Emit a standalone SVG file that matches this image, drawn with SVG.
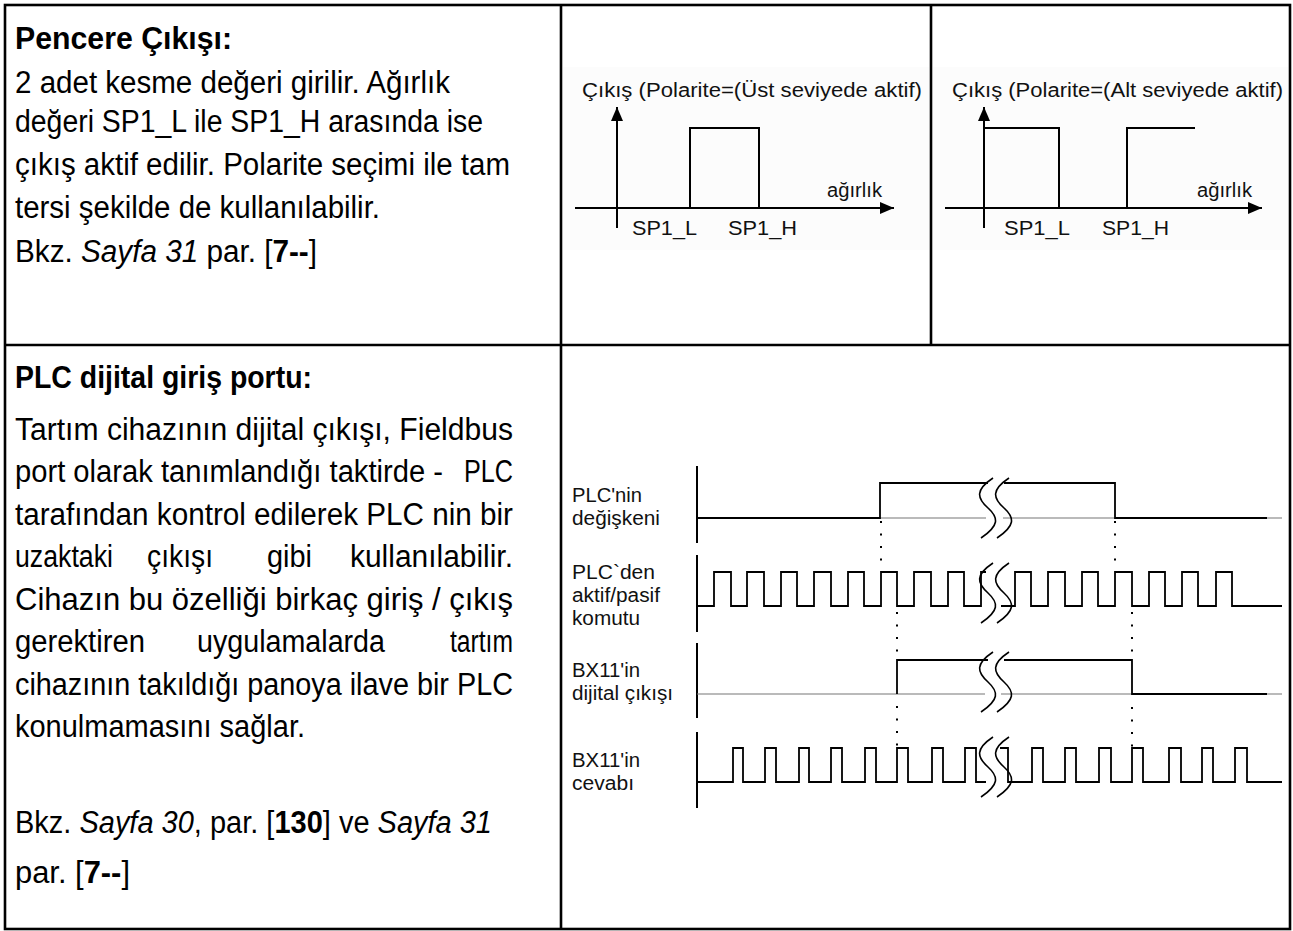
<svg xmlns="http://www.w3.org/2000/svg" width="1293" height="931" viewBox="0 0 1293 931">
<style>
.t{font-family:"Liberation Sans",Arial,sans-serif;font-size:31px;fill:#000}
.b{font-weight:bold}
.i{font-style:italic}
.c{font-family:"Liberation Sans",Arial,sans-serif;font-size:20px;fill:#111}
.ln{stroke:#000;stroke-width:2;fill:none}
.sg{stroke:#000;stroke-width:1.8;fill:none;stroke-linejoin:miter}
.gr{stroke:#777;stroke-width:1.2;fill:none}
.brk{stroke:#000;stroke-width:1.6;fill:none}
.dot{stroke:#000;stroke-width:2;stroke-dasharray:2 10.5;fill:none}
.tb{stroke:#000;stroke-width:2.6;fill:none}
</style>
<defs>
<marker id="ah" markerUnits="userSpaceOnUse" markerWidth="15" markerHeight="12" refX="14" refY="6" orient="auto">
<path d="M0,0 L14,6 L0,12 z" fill="#000"/>
</marker>
<path id="brk" d="M5,0 C-13,12 -11,20 0,30 C11,40 11,48 -7,60"/>
</defs>
<rect width="1293" height="931" fill="#fff"/>

<g id="table">
<rect class="tb" x="5" y="5" width="1285" height="924"/>
<line class="tb" x1="561" y1="5" x2="561" y2="929"/>
<line class="tb" x1="931" y1="5" x2="931" y2="345"/>
<line class="tb" x1="5" y1="345" x2="1290" y2="345"/>
</g>

<g id="pencere-text">
<text class="t b" x="15" y="49" textLength="217" lengthAdjust="spacingAndGlyphs">Pencere Çıkışı:</text>
<text class="t" x="15" y="93" textLength="435" lengthAdjust="spacingAndGlyphs">2 adet kesme değeri girilir. Ağırlık</text>
<text class="t" x="15" y="132" textLength="468" lengthAdjust="spacingAndGlyphs">değeri SP1_L ile SP1_H arasında ise</text>
<text class="t" x="15" y="175" textLength="495" lengthAdjust="spacingAndGlyphs">çıkış aktif edilir. Polarite seçimi ile tam</text>
<text class="t" x="15" y="218" textLength="365" lengthAdjust="spacingAndGlyphs">tersi şekilde de kullanılabilir.</text>
<text class="t" x="15" y="262" textLength="302" lengthAdjust="spacingAndGlyphs">Bkz. <tspan class="i">Sayfa 31</tspan> par. [<tspan class="b">7--</tspan>]</text>
</g>

<g id="chart-ust">
<rect x="563" y="67" width="366" height="183" fill="#fcfcfc"/>
<text class="c" x="582" y="97" textLength="340" lengthAdjust="spacingAndGlyphs">Çıkış (Polarite=(Üst seviyede aktif)</text>
<line class="ln" x1="617" y1="228" x2="617" y2="107" marker-end="url(#ah)"/>
<line class="ln" x1="575" y1="208" x2="894" y2="208" marker-end="url(#ah)"/>
<polyline class="ln" points="690,208 690,128 759,128 759,208"/>
<text class="c" x="827" y="197" textLength="55" lengthAdjust="spacingAndGlyphs">ağırlık</text>
<text class="c" x="632" y="235" textLength="65" lengthAdjust="spacingAndGlyphs">SP1_L</text>
<text class="c" x="728" y="235" textLength="69" lengthAdjust="spacingAndGlyphs">SP1_H</text>
</g>

<g id="chart-alt">
<rect x="933" y="67" width="355" height="183" fill="#fcfcfc"/>
<text class="c" x="952" y="97" textLength="331" lengthAdjust="spacingAndGlyphs">Çıkış (Polarite=(Alt seviyede aktif)</text>
<line class="ln" x1="984" y1="228" x2="984" y2="107" marker-end="url(#ah)"/>
<line class="ln" x1="945" y1="208" x2="1262" y2="208" marker-end="url(#ah)"/>
<polyline class="ln" points="984,128 1059,128 1059,208"/>
<polyline class="ln" points="1127,208 1127,128 1195,128"/>
<text class="c" x="1197" y="197" textLength="55" lengthAdjust="spacingAndGlyphs">ağırlık</text>
<text class="c" x="1004" y="235" textLength="66" lengthAdjust="spacingAndGlyphs">SP1_L</text>
<text class="c" x="1102" y="235" textLength="67" lengthAdjust="spacingAndGlyphs">SP1_H</text>
</g>

<g id="plc-text">
<text class="t b" x="15" y="388" textLength="297" lengthAdjust="spacingAndGlyphs">PLC dijital giriş portu:</text>
<text class="t" x="15" y="440" textLength="498" lengthAdjust="spacingAndGlyphs">Tartım cihazının dijital çıkışı, Fieldbus</text>
<text class="t" x="15" y="482" textLength="428" lengthAdjust="spacingAndGlyphs">port olarak tanımlandığı taktirde -</text>
<text class="t" x="464" y="482" textLength="49" lengthAdjust="spacingAndGlyphs">PLC</text>
<text class="t" x="15" y="525" textLength="498" lengthAdjust="spacingAndGlyphs">tarafından kontrol edilerek PLC nin bir</text>
<text class="t" x="15" y="567" textLength="98" lengthAdjust="spacingAndGlyphs">uzaktaki</text>
<text class="t" x="147" y="567" textLength="66" lengthAdjust="spacingAndGlyphs">çıkışı</text>
<text class="t" x="267" y="567" textLength="45" lengthAdjust="spacingAndGlyphs">gibi</text>
<text class="t" x="350" y="567" textLength="163" lengthAdjust="spacingAndGlyphs">kullanılabilir.</text>
<text class="t" x="15" y="610" textLength="498" lengthAdjust="spacingAndGlyphs">Cihazın bu özelliği birkaç giriş / çıkış</text>
<text class="t" x="15" y="652" textLength="130" lengthAdjust="spacingAndGlyphs">gerektiren</text>
<text class="t" x="197" y="652" textLength="188" lengthAdjust="spacingAndGlyphs">uygulamalarda</text>
<text class="t" x="450" y="652" textLength="63" lengthAdjust="spacingAndGlyphs">tartım</text>
<text class="t" x="15" y="695" textLength="498" lengthAdjust="spacingAndGlyphs">cihazının takıldığı panoya ilave bir PLC</text>
<text class="t" x="15" y="737" textLength="290" lengthAdjust="spacingAndGlyphs">konulmamasını sağlar.</text>
<text class="t" x="15" y="833" textLength="477" lengthAdjust="spacingAndGlyphs">Bkz. <tspan class="i">Sayfa 30</tspan>, par. [<tspan class="b">130</tspan>] ve <tspan class="i">Sayfa 31</tspan></text>
<text class="t" x="15" y="883" textLength="115" lengthAdjust="spacingAndGlyphs">par. [<tspan class="b">7--</tspan>]</text>
</g>

<g id="timing-labels">
<text class="c" x="572" y="502" textLength="70" lengthAdjust="spacingAndGlyphs">PLC'nin</text>
<text class="c" x="572" y="525" textLength="88" lengthAdjust="spacingAndGlyphs">değişkeni</text>
<text class="c" x="572" y="579" textLength="83" lengthAdjust="spacingAndGlyphs">PLC`den</text>
<text class="c" x="572" y="602" textLength="88" lengthAdjust="spacingAndGlyphs">aktif/pasif</text>
<text class="c" x="572" y="625" textLength="68" lengthAdjust="spacingAndGlyphs">komutu</text>
<text class="c" x="572" y="677" textLength="68" lengthAdjust="spacingAndGlyphs">BX11'in</text>
<text class="c" x="572" y="700" textLength="101" lengthAdjust="spacingAndGlyphs">dijital çıkışı</text>
<text class="c" x="572" y="767" textLength="68" lengthAdjust="spacingAndGlyphs">BX11'in</text>
<text class="c" x="572" y="790" textLength="62" lengthAdjust="spacingAndGlyphs">cevabı</text>
</g>

<g id="row-plc-degisken">
<line class="ln" x1="697" y1="466" x2="697" y2="543"/>
<path class="gr" d="M697,518 H986 M1003,518 H1282"/>
<path class="sg" d="M697,518 H880 V483 H988 M1004,483 H1115 V518 H1267"/>
<use href="#brk" x="988" y="478" class="brk"/>
<use href="#brk" x="1004" y="478" class="brk"/>
</g>

<g id="row-plc-komut">
<line class="ln" x1="697" y1="555" x2="697" y2="632"/>
<path class="sg" d="M697,606 H714 V572 H731 V606 H747 V572 H764 V606 H781 V572 H797 V606 H814 V572 H831 V606 H848 V572 H864 V606 H881 V572 H897 V606 H914 V572 H931 V606 H948 V572 H964 V606 H981 V572 H986"/>
<path class="sg" d="M1001,606 H1015 V572 H1031 V606 H1048 V572 H1065 V606 H1082 V572 H1098 V606 H1115 V572 H1132 V606 H1149 V572 H1165 V606 H1182 V572 H1198 V606 H1216 V572 H1232 V606 H1282"/>
<use href="#brk" x="988" y="563" class="brk"/>
<use href="#brk" x="1004" y="563" class="brk"/>
</g>

<g id="row-bx11-cikis">
<line class="ln" x1="697" y1="643" x2="697" y2="718"/>
<path class="gr" d="M697,694 H985 M1001,694 H1282"/>
<path class="sg" d="M897,694 V660 H988 M1004,660 H1132 V694 H1267"/>
<use href="#brk" x="988" y="652" class="brk"/>
<use href="#brk" x="1004" y="652" class="brk"/>
</g>

<g id="row-bx11-cevap">
<line class="ln" x1="697" y1="732" x2="697" y2="808"/>
<path class="sg" d="M697,782 H733 V748 H743 V782 H765 V748 H776 V782 H799 V748 H809 V782 H831 V748 H842 V782 H865 V748 H876 V782 H897 V748 H908 V782 H932 V748 H943 V782 H965 V748 H976 V782 H986"/>
<path class="sg" d="M1000,748 H1008 V782 H1032 V748 H1043 V782 H1065 V748 H1076 V782 H1099 V748 H1111 V782 H1132 V748 H1143 V782 H1169 V748 H1181 V782 H1202 V748 H1213 V782 H1235 V748 H1247 V782 H1282"/>
<use href="#brk" x="988" y="737" class="brk"/>
<use href="#brk" x="1004" y="737" class="brk"/>
</g>

<g id="connectors">
<line class="dot" x1="881" y1="521" x2="881" y2="562"/>
<line class="dot" x1="1115" y1="521" x2="1115" y2="562"/>
<line class="dot" x1="897" y1="612" x2="897" y2="658"/>
<line class="dot" x1="1132" y1="612" x2="1132" y2="652"/>
<line class="dot" x1="897" y1="706" x2="897" y2="746"/>
<line class="dot" x1="1132" y1="707" x2="1132" y2="747"/>
</g>
</svg>
